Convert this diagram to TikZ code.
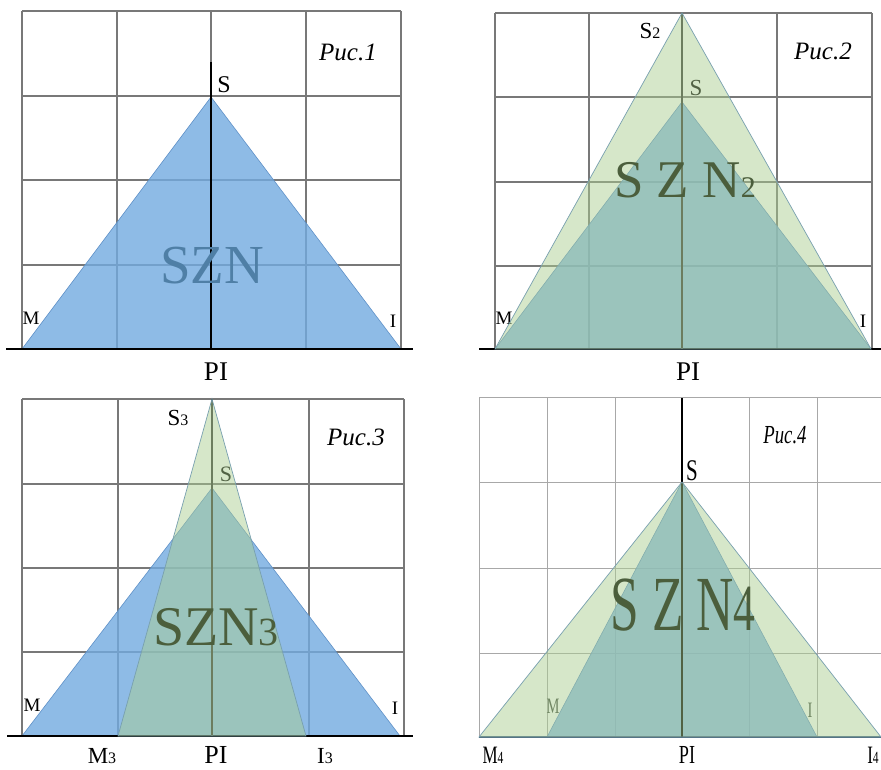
\documentclass[tikz,border=0pt]{standalone}
\usepackage{fontspec}
\setmainfont{Liberation Serif}
\newcommand\myfs[1]{\fontsize{#1}{#1}\selectfont}
\definecolor{bluefill}{RGB}{114,170,224}
\definecolor{blueedge}{RGB}{95,145,200}
\definecolor{greenfill}{RGB}{171,206,144}
\definecolor{greenedge}{RGB}{120,160,175}
\definecolor{gridgray}{RGB}{120,120,120}
\definecolor{gridlight}{RGB}{168,168,168}
\definecolor{sznblue}{RGB}{79,127,166}
\definecolor{szngreen}{RGB}{75,94,60}
\definecolor{axis4}{RGB}{60,85,110}
\definecolor{innerlab}{RGB}{60,70,60}
\tikzset{
  gridline/.style={draw=gridgray, line width=1.1pt},
  gridlinelight/.style={draw=gridlight, line width=1pt},
  bluetri/.style={fill=bluefill, fill opacity=0.8, draw=blueedge, line width=0.6pt},
  greentri/.style={fill=greenfill, fill opacity=0.48, draw=greenedge, line width=0.7pt},
  axisline/.style={draw=black, line width=2pt},
  lab/.style={inner sep=0pt, anchor=base, text=black},
  botlab/.style={lab, text depth=0pt},
}
\begin{document}
\begin{tikzpicture}[x=1pt,y=-1pt]
\clip (0,0) rectangle (881,769);
\fill[white] (0,0) rectangle (881,769);

% ================= Panel 1 =================
\foreach \x in {22,117,211,306,401} \draw[gridline] (\x,11) -- (\x,349);
\foreach \y in {11,96,180,265,349} \draw[gridline] (22,\y) -- (401,\y);
\fill[bluetri] (22,349) -- (211,97) -- (401,349) -- cycle;
\coordinate (a1l) at (6,349); \coordinate (a1r) at (413,349);
\coordinate (v1t) at (211,62); \coordinate (v1b) at (211,349);
\draw[axisline] (a1l) -- (a1r);
\draw[axisline, line width=2.4pt] (v1t) -- (v1b);
\node[lab] (s1) at (224,92) {\myfs{24}S};
\node[lab] (r1) at (348,60) {\myfs{25}\itshape Рис.1};
\node[lab] (m1) at (31,324) {\myfs{19}M};
\node[lab] (i1) at (393,327) {\myfs{19}I};
\node[lab] (p1) at (216,380) {\myfs{27}PI};
\node[lab, text=sznblue] (z1) at (212,283) {\myfs{55}SZN};

% ================= Panel 2 =================
\foreach \x in {495,589,682,777,872} \draw[gridline] (\x,13) -- (\x,349);
\foreach \y in {13,97,182,266,349} \draw[gridline] (495,\y) -- (872,\y);
\fill[bluetri] (495,349) -- (682,102) -- (871,349) -- cycle;
\coordinate (a2l) at (479,349); \coordinate (a2r) at (881,349);
\coordinate (v2t) at (682,13); \coordinate (v2b) at (682,349);
\draw[axisline] (a2l) -- (a2r);
\draw[axisline, line width=2pt, draw=black!80] (v2t) -- (v2b);
\node[lab] (s2b) at (696,95) {\myfs{23}S};
\node[lab] (m2) at (504,324) {\myfs{19}M};
\node[lab] (i2) at (863,327) {\myfs{19}I};
\fill[greentri] (495,349) -- (682,13) -- (871,349) -- cycle;
\node[lab] (s2) at (650,38) {\myfs{23}S\myfs{16}2};
\node[lab] (r2) at (823,59) {\myfs{25}\itshape Рис.2};
\node[lab] (p2) at (688,380) {\myfs{27}PI};
\node[lab, text=szngreen] (z2) at (685,197) {\myfs{53}S Z N\myfs{30}2};

% ================= Panel 3 =================
\foreach \x in {22,118,212,309,404} \draw[gridline] (\x,399) -- (\x,736);
\foreach \y in {399,484,568,652,736} \draw[gridline] (22,\y) -- (404,\y);
\fill[bluetri] (22,736) -- (212,488) -- (400,736) -- cycle;
\coordinate (a3l) at (7,736); \coordinate (a3r) at (413,736);
\coordinate (v3t) at (212,399); \coordinate (v3b) at (212,736);
\draw[axisline] (a3l) -- (a3r);
\draw[axisline, line width=2pt, draw=black!80] (v3t) -- (v3b);
\node[lab] (s3b) at (226,481) {\myfs{22}S};
\node[lab] (m3) at (32,711) {\myfs{19}M};
\node[lab] (i3) at (395,714) {\myfs{19}I};
\fill[greentri] (118,736) -- (212,399) -- (306,736) -- cycle;
\node[lab] (s3) at (178,425) {\myfs{23}S\myfs{16}3};
\node[lab] (r3) at (356,445) {\myfs{25}\itshape Рис.3};
\node[botlab] (mm3) at (102,763) {\myfs{23}M\myfs{16}3};
\node[botlab] (p3) at (216,763) {\myfs{26}PI};
\node[botlab] (ii3) at (325,763) {\myfs{23}I\myfs{16}3};
\node[lab, text=szngreen] (z3) at (216,645) {\myfs{56}SZN\myfs{40}3};

% ================= Panel 4 =================
\foreach \x in {479,547,615,682,749,817,885} \draw[gridlinelight] (\x,397) -- (\x,737);
\foreach \y in {397,482,568,653,737} \draw[gridlinelight] (479,\y) -- (890,\y);
\fill[bluetri] (547,737) -- (682,482) -- (817,737) -- cycle;
\coordinate (a4l) at (479,737); \coordinate (a4r) at (881,737);
\coordinate (v4t) at (682,398); \coordinate (v4b) at (682,737);
\draw[axisline, draw=axis4, line width=1.8pt] (a4l) -- (a4r);
\draw[axisline, line width=1.4pt] (v4t) -- (v4b);
\node[lab, text=innerlab] (m4i) at (553,713) {\scalebox{0.66}[1]{\myfs{22}M}};
\node[lab, text=innerlab] (i4i) at (810,717) {\scalebox{0.66}[1]{\myfs{22}I}};
\fill[greentri] (479,737) -- (682,482) -- (881,737) -- cycle;
\node[lab] (s4) at (692,480) {\scalebox{0.7}[1]{\myfs{30}S}};
\node[lab] (r4) at (785,443) {\scalebox{0.72}[1]{\myfs{26}\itshape Рис.4}};
\node[botlab] (mm4) at (493,763) {\scalebox{0.68}[1]{\myfs{25}M\myfs{17}4}};
\node[botlab] (p4) at (687,763) {\scalebox{0.7}[1]{\myfs{26}PI}};
\node[botlab] (ii4) at (873,763) {\scalebox{0.68}[1]{\myfs{25}I\myfs{17}4}};
\node[lab, text=szngreen] (z4) at (683,630) {\scalebox{0.66}[1]{\myfs{78}S Z N\myfs{66}4}};
\end{tikzpicture}
\end{document}
